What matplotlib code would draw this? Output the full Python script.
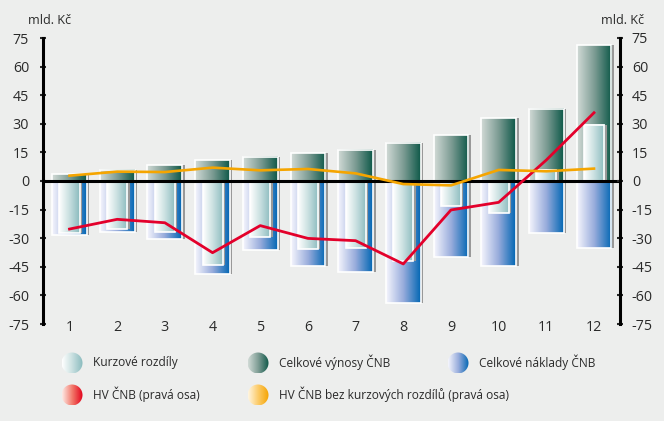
import numpy as np
import matplotlib
matplotlib.use('Agg')
import matplotlib.pyplot as plt
from matplotlib.colors import LinearSegmentedColormap
from matplotlib.patches import Rectangle, Circle
from matplotlib.transforms import offset_copy

plt.rcParams['font.family'] = ['Open Sans', 'DejaVu Sans']

# ---- data (mld. Kč) ----
months = [1, 2, 3, 4, 5, 6, 7, 8, 9, 10, 11, 12]
vynosy = [3.5, 6.0, 8.3, 11.0, 12.7, 14.5, 16.3, 20.0, 24.0, 33.0, 38.0, 71.3]
naklady = [-28.3, -26.6, -30.4, -48.9, -36.2, -44.4, -47.6, -64.0, -39.7, -44.4, -27.4, -35.3]
kurzove = [-27.4, -25.3, -26.9, -44.0, -29.2, -35.8, -35.3, -41.8, -13.1, -17.0, 6.0, 29.4]
hv = [-25.2, -20.1, -21.9, -37.6, -23.4, -30.1, -31.3, -43.5, -15.2, -11.2, 11.0, 35.8]
hv_bez = [2.8, 4.9, 4.7, 7.0, 5.6, 6.3, 4.0, -1.6, -2.3, 5.8, 5.1, 6.5]
yticks = [75, 60, 45, 30, 15, 0, -15, -30, -45, -60, -75]

legend_names = ['Kurzové rozdíly', 'Celkové výnosy ČNB', 'Celkové náklady ČNB',
                'HV ČNB (pravá osa)', 'HV ČNB bez kurzových rozdílů (pravá osa)']

bg = '#edeeed'
txt = '#2a2a2a'
cm_kurz = LinearSegmentedColormap.from_list('kurz', ['#ffffff', '#c8dfe0', '#88babd'])
cm_vyn = LinearSegmentedColormap.from_list('vyn', ['#d2dbd7', '#7d9c94', '#0d5848'])
cm_nak = LinearSegmentedColormap.from_list('nak', ['#f6f6fd', '#98acdc', '#0066b3'])
cm_red = LinearSegmentedColormap.from_list('red', ['#fdeae6', '#f2786a', '#e2001a'])
cm_ora = LinearSegmentedColormap.from_list('ora', ['#fff6e2', '#fcca66', '#f5a300'])
red = '#e3002b'
orange = '#f5a500'

fig = plt.figure(figsize=(6.64, 4.21), dpi=100, facecolor=bg)
ax = fig.add_axes([43 / 664, 97 / 421, 577 / 664, 286 / 421])
ax.set_facecolor(bg)

grad = np.linspace(0, 1, 256).reshape(1, -1)
shadow_tr = offset_copy(ax.transData, fig=fig, x=2.5, y=0, units='dots')


def gbar(x, y0, y1, w, cmap, z):
    lo, hi = min(y0, y1), max(y0, y1)
    left = x - w / 2
    ax.add_patch(Rectangle((left, lo), w, hi - lo, transform=shadow_tr,
                           facecolor='#999999', edgecolor='none', zorder=z))
    ax.imshow(grad, cmap=cmap, extent=(left, left + w, lo, hi), aspect='auto',
              zorder=z + 0.1, interpolation='bilinear')
    ax.add_patch(Rectangle((left, lo), w, hi - lo, facecolor='none',
                           edgecolor='white', lw=1.2, zorder=z + 0.2))


for m, v, n, k in zip(months, vynosy, naklady, kurzove):
    gbar(m, 0, v, 0.73, cm_vyn, 2)
    gbar(m, 0, n, 0.73, cm_nak, 2)
    gbar(m, 0, k, 0.42, cm_kurz, 3)

ax.axhline(0, color='black', lw=2.2, zorder=4)
ax.plot(months, hv, color=red, lw=2.0, zorder=5)
ax.plot(months, hv_bez, color=orange, lw=1.9, zorder=5)

ax.set_xlim(0.444, 12.545)
ax.set_ylim(-75, 75)
ax.set_xticks([])
ax.set_yticks(yticks, labels=[str(t) for t in yticks])
for s in ['top', 'bottom', 'right']:
    ax.spines[s].set_visible(False)
ax.spines['left'].set_linewidth(2.2)
ax.tick_params(axis='y', direction='inout', length=5, width=1.5, labelsize=10.3, pad=7.5, colors=txt)
ax.spines['left'].set_color('black')

ax2 = ax.twinx()
ax2.set_ylim(-75, 75)
ax2.set_yticks(yticks, labels=[str(t) for t in yticks])
for s in ['top', 'bottom', 'left']:
    ax2.spines[s].set_visible(False)
ax2.spines['right'].set_linewidth(2.2)
ax2.tick_params(axis='y', direction='inout', length=5, width=1.5, labelsize=10.3, pad=6, colors=txt)

for m in months:
    ax.text(m, -76.6, str(m), ha='center', va='center', fontsize=10.3, color=txt, clip_on=False)

fig.text(28 / 664, 1 - 20 / 421, 'mld. Kč', ha='left', va='center', fontsize=9.1, color=txt)
fig.text(601 / 664, 1 - 21 / 421, 'mld. Kč', ha='left', va='center', fontsize=9.1, color=txt)

# ---- legend ----
lax = fig.add_axes([0, 0, 1, 1], facecolor='none')
lax.axis('off')
leg_cmaps = [cm_kurz, cm_vyn, cm_nak, cm_red, cm_ora]
leg_pos = [(72, 363), (258, 363), (458, 363), (72, 395), (258, 395)]
for name, cm, (cx, cy) in zip(legend_names, leg_cmaps, leg_pos):
    r = 10.5
    im = lax.imshow(grad, cmap=cm, extent=(cx - r, cx + r, cy + r, cy - r), aspect='auto',
                    interpolation='bilinear')
    circ = Circle((cx, cy), r, transform=lax.transData, facecolor='none', edgecolor='none')
    lax.add_patch(circ)
    im.set_clip_path(circ)
    lax.text(cx + 21, cy - 0.5, name, ha='left', va='center', fontsize=8.6, color=txt)
lax.set_xlim(0, 664)
lax.set_ylim(421, 0)

fig.savefig('out.png', dpi=100, facecolor=bg)
